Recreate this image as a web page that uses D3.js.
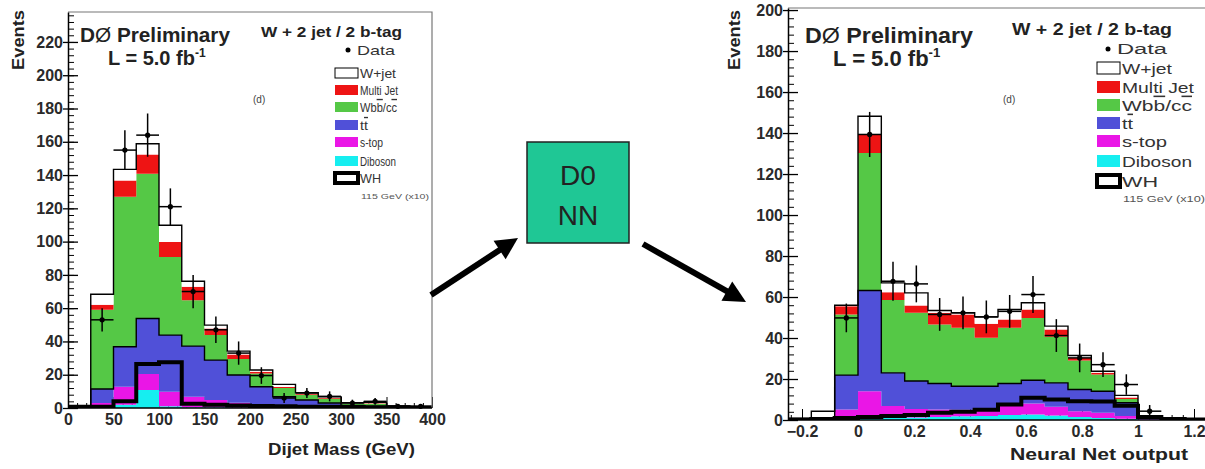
<!DOCTYPE html>
<html>
<head>
<meta charset="utf-8">
<script src="https://cdn.jsdelivr.net/npm/d3@7"></script>
<style>
  body { margin: 0; background: #fff; }
  text { font-family: "Liberation Sans", Arial, sans-serif; }
</style>
</head>
<body>
<div id="chart"></div>
<script>
// ---------- left panel: dijet mass, 25 GeV bins ----------
const massEdges = [0, 25, 50, 75, 100, 125, 150, 175, 200, 225, 250, 275, 300, 325, 350, 375, 400];
const massDiboson  = [0, 0.5, 2, 10.8, 1, 0.5, 0.5, 0.3, 0.2, 0.1, 0, 0, 0, 0, 0, 0];
const massStop     = [0.2, 2.5, 10.8, 9.6, 8.8, 6.3, 4.3, 2.9, 1.8, 0.9, 0.7, 0.4, 0.3, 0.2, 0.1, 0];
const massTtbar    = [0.3, 8.4, 24, 33.4, 34, 30.4, 24, 16.6, 10.8, 5.8, 4.1, 2.6, 1.2, 0.8, 0.4, 0.3];
const massWbb      = [0.3, 47.6, 90.2, 87, 47, 27.6, 15, 9.6, 8, 5.2, 3.2, 2.5, 1, 1.5, 0.5, 0.2];
const massMultijet = [0.2, 3, 9.8, 11.6, 9, 8, 4, 2.8, 1, 0.6, 0.4, 0.5, 0.2, 0.3, 0.1, 0.1];
const massWjet     = [0.2, 6.4, 6.6, 6.4, 10, 3.4, 2, 2, 1, 1.6, 0.8, 0.8, 0.5, 0.7, 0.2, 0.2];
const massWH       = [0.8, 0.8, 4, 26.5, 27.5, 2.5, 2, 1.5, 1.2, 1, 0.8, 0.8, 0.6, 0.5, 0.4, 0.3];
const massData     = [0, 53, 155, 164, 121, 70, 47, 33, 19.5, 6, 9, 7, 3, 4, 1, 1];
const massErr      = [0, 7, 12, 13, 11, 10, 8, 7, 5, 3, 3, 3, 2, 2, 1, 1];
const massTicks  = [0, 50, 100, 150, 200, 250, 300, 350, 400];
const massYTicks = [0, 20, 40, 60, 80, 100, 120, 140, 160, 180, 200, 220];

// ---------- right panel: neural net output, 1/12 bins ----------
const nnEdges = [-0.25, -0.1667, -0.0833, 0, 0.0833, 0.1667, 0.25, 0.3333, 0.4167, 0.5,
                 0.5833, 0.6667, 0.75, 0.8333, 0.9167, 1, 1.0833, 1.1667, 1.25];
const nnDiboson  = [0, 0, 0.5, 1, 1, 1.2, 1.5, 1.8, 2, 2.5, 2.7, 2.2, 1.5, 1, 0.6, 0, 0, 0];
const nnStop     = [0.2, 0.3, 4.6, 13, 5.8, 4.2, 3.6, 3.2, 3, 4.5, 5.3, 4.3, 2.8, 2.5, 1.4, 0.3, 0.1, 0.1];
const nnTtbar    = [0.3, 0.5, 16.8, 49.2, 16.2, 13.6, 12.7, 11.5, 11.5, 10.8, 11.4, 11.6, 10.6, 10.5, 6.4, 0.7, 0.4, 0.2];
const nnWbb      = [0.1, 0.2, 29.6, 67.1, 35.5, 33.3, 28.8, 28.5, 23.6, 27.2, 30.4, 22.5, 14.1, 8.2, 1.9, 0.5, 0.1, 0.1];
const nnMultijet = [0.1, 0.2, 4, 9, 3.8, 3.6, 5.7, 6.5, 6.9, 4, 4.1, 3.5, 1.3, 0.8, 0.7, 0.2, 0.1, 0.1];
const nnWjet     = [0.1, 3.1, 0.5, 8.9, 4.6, 6.1, 1.1, 0.8, 3.3, 4.9, 3.3, 1.7, 1.2, 0.8, 1, 0.3, 0.1, 0.1];
const nnWH       = [0.3, 0.5, 1, 1.5, 2, 2.5, 3.5, 4, 5, 7.6, 10.8, 10, 9.2, 9, 7, 1.5, 0.5, 0.3];
const nnData     = [0, 0, 49.8, 139.3, 67.7, 66.4, 51.5, 52.3, 50.3, 53, 61.2, 41.2, 30.3, 27, 17.3, 4.3, 0, 0];
const nnErr      = [0, 0, 7, 11, 9.5, 9, 8, 8, 8, 8, 9, 8, 7, 6, 5, 3, 0, 0];
const nnTicks  = [-0.2, 0, 0.2, 0.4, 0.6, 0.8, 1, 1.2];
const nnYTicks = [0, 20, 40, 60, 80, 100, 120, 140, 160, 180, 200];

// stack order, bottom to top
const components = ["diboson", "stop", "ttbar", "wbb", "multijet", "wjet"];
const colors = {
  wjet: "#ffffff", multijet: "#ee1414", wbb: "#55c846",
  ttbar: "#5050d8", stop: "#ea16e6", diboson: "#16eef0"
};
const legendKeys = ["wjet", "multijet", "wbb", "ttbar", "stop", "diboson", "wh"];

const svg = d3.select("#chart")
  .append("svg")
  .attr("width", 1205)
  .attr("height", 469);

function drawPanel(p) {
  const x = d3.scaleLinear().domain(p.xDomain).range([p.left, p.right]);
  const y = d3.scaleLinear().domain(p.yDomain).range([p.bottom, p.top]);
  const g = svg.append("g");

  const clipId = "clip" + p.id;
  g.append("clipPath").attr("id", clipId)
    .append("rect")
      .attr("x", p.left).attr("y", p.top)
      .attr("width", p.right - p.left).attr("height", p.bottom - p.top);

  // x ticks (drawn under the histograms, like ROOT)
  g.append("g")
    .attr("transform", `translate(0,${p.bottom})`)
    .call(d3.axisBottom(x).tickValues(p.xMinor).tickSizeInner(-5).tickSizeOuter(0).tickFormat(""))
    .call(a => a.select(".domain").remove());
  g.append("g")
    .attr("transform", `translate(0,${p.bottom})`)
    .call(d3.axisBottom(x).tickValues(p.xTicks).tickSizeInner(-11).tickSizeOuter(0).tickFormat(""))
    .call(a => a.select(".domain").remove());

  // stacked backgrounds
  const rows = p.edges.slice(0, -1).map((lo, i) => {
    const r = { lo: lo, hi: p.edges[i + 1] };
    components.forEach(k => r[k] = p.values[k][i]);
    return r;
  });
  const layers = d3.stack().keys(components)(rows);
  const steps = layer => layer.flatMap(d => [
    { x: d.data.lo, y0: d[0], y1: d[1] },
    { x: d.data.hi, y0: d[0], y1: d[1] }
  ]);
  const area = d3.area().x(d => x(d.x)).y0(d => y(d.y0)).y1(d => y(d.y1));

  const hist = g.append("g").attr("clip-path", `url(#${clipId})`);
  hist.selectAll("path.layer")
    .data(layers)
    .join("path")
      .attr("class", "layer")
      .attr("d", l => area(steps(l)))
      .attr("fill", l => colors[l.key]);

  const outline = d3.line().x(d => x(d.x)).y(d => y(d.y));
  const closed = pts => [{ x: pts[0].x, y: 0 }, ...pts, { x: pts[pts.length - 1].x, y: 0 }];

  // black outlines on top of ttbar and of the full stack
  ["ttbar", "wjet"].forEach(k => {
    const l = layers.find(s => s.key === k);
    hist.append("path")
      .attr("d", outline(closed(steps(l).map(d => ({ x: d.x, y: d.y1 })))))
      .attr("fill", "none")
      .attr("stroke", "#000")
      .attr("stroke-width", 1.4);
  });

  // WH signal (x10), thick outline
  const whPts = p.wh.flatMap((v, i) => [{ x: p.edges[i], y: v }, { x: p.edges[i + 1], y: v }]);
  hist.append("path")
    .attr("d", outline(closed(whPts)))
    .attr("fill", "none")
    .attr("stroke", "#000")
    .attr("stroke-width", 4);

  // data points with error bars
  const pts = p.data.map((v, i) => ({ v: v, e: p.err[i], lo: p.edges[i], hi: p.edges[i + 1] }))
    .filter(d => d.v > 0);
  const dg = g.append("g").attr("stroke", "#000").attr("stroke-width", 1.5);
  dg.selectAll("line.ex")
    .data(pts).join("line")
      .attr("x1", d => x(d.lo)).attr("x2", d => x(d.hi))
      .attr("y1", d => y(d.v)).attr("y2", d => y(d.v));
  dg.selectAll("line.ey")
    .data(pts).join("line")
      .attr("x1", d => x((d.lo + d.hi) / 2)).attr("x2", d => x((d.lo + d.hi) / 2))
      .attr("y1", d => y(Math.max(0, d.v - d.e))).attr("y2", d => y(d.v + d.e));
  g.append("g").selectAll("circle")
    .data(pts).join("circle")
      .attr("cx", d => x((d.lo + d.hi) / 2))
      .attr("cy", d => y(d.v))
      .attr("r", 2.6)
      .attr("fill", "#000");

  // frame
  g.append("path")
    .attr("d", `M${p.left},${p.top}H${p.right}V${p.bottom}`)
    .attr("fill", "none").attr("stroke", "#777").attr("stroke-width", 1.2);
  g.append("line")
    .attr("x1", p.left).attr("x2", p.right).attr("y1", p.bottom).attr("y2", p.bottom)
    .attr("stroke", "#000").attr("stroke-width", 1.5);

  // y axis
  g.append("g")
    .attr("transform", `translate(${p.left},0)`)
    .call(d3.axisLeft(y).tickValues(p.yMinor).tickSizeInner(-6).tickSizeOuter(0).tickFormat(""))
    .call(a => a.select(".domain").remove());
  const yAx = g.append("g")
    .attr("transform", `translate(${p.left},0)`)
    .call(d3.axisLeft(y).tickValues(p.yTicks).tickSizeInner(-10).tickSizeOuter(0).tickPadding(5));
  yAx.select(".domain").attr("stroke-width", 1.5);
  yAx.selectAll(".tick line").attr("x1", -5).attr("stroke-width", 1.3);
  yAx.selectAll(".tick text")
    .attr("font-family", "Liberation Sans, Arial, sans-serif")
    .attr("font-size", 16).attr("font-weight", "bold").attr("fill", "#2a2a2a");

  // x tick labels
  const xAx = g.append("g")
    .attr("transform", `translate(0,${p.bottom})`)
    .call(d3.axisBottom(x).tickValues(p.xTicks).tickSize(0).tickPadding(p.xPad).tickFormat(p.xFormat));
  xAx.select(".domain").remove();
  xAx.selectAll(".tick text")
    .attr("font-family", "Liberation Sans, Arial, sans-serif")
    .attr("font-size", 16).attr("font-weight", "bold").attr("fill", "#2a2a2a");

  // axis titles
  svg.append("text")
    .attr("transform", `translate(${p.evX},40) rotate(-90)`)
    .attr("text-anchor", "middle")
    .attr("font-size", 17).attr("font-weight", "bold").attr("fill", "#222")
    .attr("textLength", 60).attr("lengthAdjust", "spacingAndGlyphs")
    .text("Events");
  svg.append("text")
    .attr("x", p.xTitle.x).attr("y", p.xTitle.y)
    .attr("font-size", 17).attr("font-weight", "bold").attr("fill", "#222")
    .attr("textLength", p.xTitle.w).attr("lengthAdjust", "spacingAndGlyphs")
    .text(p.xTitle.text);

  // labels
  const L = p.lab;
  const d0 = svg.append("text")
    .attr("x", L.d0x).attr("y", L.d0y)
    .attr("font-size", L.big).attr("font-weight", "bold").attr("fill", "#222")
    .attr("textLength", L.d0w).attr("lengthAdjust", "spacingAndGlyphs");
  d0.append("tspan").text("D");
  d0.append("tspan").attr("font-weight", "normal").text("Ø");
  d0.append("tspan").text(" Preliminary");
  const lum = svg.append("text")
    .attr("x", L.lx).attr("y", L.ly)
    .attr("font-size", L.big).attr("font-weight", "bold").attr("fill", "#222");
  lum.append("tspan").text("L = 5.0 fb");
  lum.append("tspan").attr("font-size", L.big * 0.6).attr("dy", -L.big * 0.42).text("-1");

  svg.append("text")
    .attr("x", L.tx).attr("y", L.ty)
    .attr("font-size", L.tf).attr("font-weight", "bold").attr("fill", "#222")
    .attr("textLength", L.tw).attr("lengthAdjust", "spacingAndGlyphs")
    .text("W + 2 jet / 2 b-tag");

  svg.append("circle").attr("cx", L.dotX).attr("cy", L.dataY - 4).attr("r", 2.5).attr("fill", "#000");
  svg.append("text")
    .attr("x", L.dotX + 9).attr("y", L.dataY + 1)
    .attr("font-size", L.lf).attr("fill", "#333")
    .attr("textLength", L.dataW).attr("lengthAdjust", "spacingAndGlyphs")
    .text("Data");

  legendKeys.forEach((k, i) => {
    const cy = L.rows[i];
    svg.append("rect")
      .attr("x", L.boxX).attr("y", cy - L.boxH / 2)
      .attr("width", 23).attr("height", L.boxH)
      .attr("fill", k === "wh" ? "#fff" : colors[k])
      .attr("stroke", "#000")
      .attr("stroke-width", k === "wh" ? 4 : (k === "wjet" ? 1 : 0));
    const t = svg.append("text")
      .attr("x", L.boxX + 25).attr("y", cy + L.lf * 0.36)
      .attr("font-size", L.lf).attr("fill", "#333")
      .attr("textLength", L.widths[i]).attr("lengthAdjust", "spacingAndGlyphs");
    if (k === "wbb") {
      t.append("tspan").text("Wb");
      t.append("tspan").style("text-decoration", "overline").text("b");
      t.append("tspan").text("/c");
      t.append("tspan").style("text-decoration", "overline").text("c");
    } else if (k === "ttbar") {
      t.append("tspan").text("t");
      t.append("tspan").style("text-decoration", "overline").text("t");
    } else {
      t.text({ wjet: "W+jet", multijet: "Multi Jet", stop: "s-top", diboson: "Diboson", wh: "WH" }[k]);
    }
  });
  svg.append("text")
    .attr("x", L.boxX + 26).attr("y", L.gevY)
    .attr("font-size", L.sf).attr("fill", "#555")
    .attr("textLength", L.gevW).attr("lengthAdjust", "spacingAndGlyphs")
    .text("115 GeV (x10)");
  svg.append("text")
    .attr("x", L.dX).attr("y", 103)
    .attr("font-family", "Liberation Serif, serif")
    .attr("font-size", 10).attr("fill", "#444")
    .text("(d)");
}

drawPanel({
  id: 1,
  left: 68, right: 432, top: 12, bottom: 408,
  xDomain: [0, 400], yDomain: [0, 238],
  edges: massEdges,
  values: { diboson: massDiboson, stop: massStop, ttbar: massTtbar, wbb: massWbb, multijet: massMultijet, wjet: massWjet },
  wh: massWH, data: massData, err: massErr,
  xTicks: massTicks, xMinor: d3.range(0, 401, 10), xPad: 6, xFormat: d3.format("d"),
  yTicks: massYTicks, yMinor: d3.range(0, 238, 4),
  evX: 24,
  xTitle: { x: 268, y: 455, w: 147, text: "Dijet Mass (GeV)" },
  lab: {
    big: 20, d0x: 80, d0y: 42, d0w: 150, lx: 108, ly: 65,
    tx: 261, ty: 37, tf: 15, tw: 141,
    dotX: 348, dataY: 54, dataW: 38, lf: 13.5,
    boxX: 335, boxH: 10, rows: [73, 90, 107, 125, 142, 161, 178],
    widths: [36, 38, 37, 8, 23, 36, 21],
    sf: 8, gevY: 199, gevW: 68, dX: 253
  }
});

drawPanel({
  id: 2,
  left: 788, right: 1208, top: 8, bottom: 420,
  xDomain: [-0.25, 1.25], yDomain: [0, 201],
  edges: nnEdges,
  values: { diboson: nnDiboson, stop: nnStop, ttbar: nnTtbar, wbb: nnWbb, multijet: nnMultijet, wjet: nnWjet },
  wh: nnWH, data: nnData, err: nnErr,
  xTicks: nnTicks, xMinor: d3.range(-0.24, 1.25, 0.04), xPad: 6, xFormat: d => d3.format("")(+d.toFixed(1)),
  yTicks: nnYTicks, yMinor: d3.range(0, 201, 4),
  evX: 740,
  xTitle: { x: 1010, y: 460, w: 178, text: "Neural Net output" },
  lab: {
    big: 22, d0x: 805, d0y: 43, d0w: 168, lx: 833, ly: 66,
    tx: 1012, ty: 35, tf: 16, tw: 160,
    dotX: 1108, dataY: 53, dataW: 50, lf: 15.5,
    boxX: 1097, boxH: 12, rows: [68, 87, 105, 123, 141, 161, 181],
    widths: [50, 72, 70, 11, 45, 70, 36],
    sf: 9, gevY: 202, gevW: 82, dX: 1003
  }
});

// ---------- middle: D0 NN box and arrows ----------
const mid = svg.append("g");
const arrowHead = ([x1, y1], [x2, y2], len, half) => {
  const a = Math.atan2(y2 - y1, x2 - x1);
  const bx = x2 - len * Math.cos(a), by = y2 - len * Math.sin(a);
  return [[x2, y2],
          [bx + half * Math.sin(a), by - half * Math.cos(a)],
          [bx - half * Math.sin(a), by + half * Math.cos(a)]];
};
const arrows = [
  [[431, 295], [518, 238]],
  [[643, 244], [746, 302]]
];
arrows.forEach(([s, e]) => {
  const a = Math.atan2(e[1] - s[1], e[0] - s[0]);
  mid.append("line")
    .attr("x1", s[0]).attr("y1", s[1])
    .attr("x2", e[0] - 16 * Math.cos(a)).attr("y2", e[1] - 16 * Math.sin(a))
    .attr("stroke", "#000").attr("stroke-width", 6);
  mid.append("polygon")
    .attr("points", arrowHead(s, e, 22, 11).map(p => p.join(",")).join(" "))
    .attr("fill", "#000");
});
mid.append("rect")
  .attr("x", 527).attr("y", 142).attr("width", 102).attr("height", 101)
  .attr("fill", "#1fc795").attr("stroke", "#222").attr("stroke-width", 1.5);
mid.selectAll("text.nn")
  .data(["D0", "NN"])
  .join("text")
    .attr("x", 578).attr("y", (d, i) => 185 + i * 40)
    .attr("text-anchor", "middle")
    .attr("font-size", 28).attr("fill", "#222")
    .text(d => d);
</script>
</body>
</html>
